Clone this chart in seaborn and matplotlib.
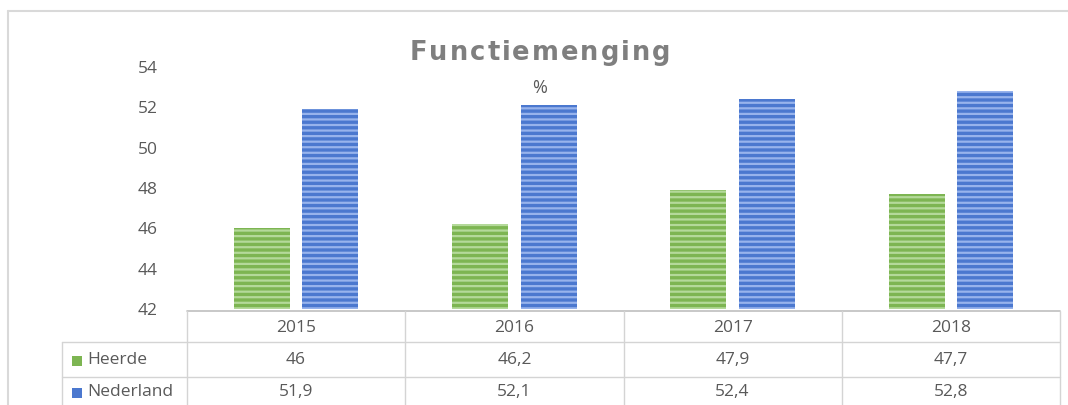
import matplotlib
matplotlib.use("Agg")
import matplotlib.pyplot as plt
import matplotlib.transforms as mtransforms
from matplotlib.lines import Line2D
from matplotlib.patches import Rectangle
import seaborn as sns
import pandas as pd

years = ["2015", "2016", "2017", "2018"]
series_names = ["Heerde", "Nederland"]
heerde = [46.0, 46.2, 47.9, 47.7]
nederland = [51.9, 52.1, 52.4, 52.8]
heerde_labels = ["46", "46,2", "47,9", "47,7"]
nederland_labels = ["51,9", "52,1", "52,4", "52,8"]
yticks = [42, 44, 46, 48, 50, 52, 54]
title = "Functiemenging"
subtitle = "%"

base_colors = {"Heerde": "#7db552", "Nederland": "#4b78cf"}
stripe_colors = {"Heerde": "#b4d99a", "Nederland": "#97b3ec"}
text_color = "#595959"
grid_color = "#d4d4d4"

sns.set_style("white")
plt.rcParams["font.family"] = ["Open Sans", "DejaVu Sans"]
plt.rcParams["hatch.linewidth"] = 1.6

W, H = 1068, 405
fig = plt.figure(figsize=(W / 100, H / 100), dpi=100)

def fx(px):
    return px / W

def fy(py):
    return 1 - py / H

ax = fig.add_axes([fx(187), fy(309), fx(1060) - fx(187), fy(67) - fy(309)])

df = pd.DataFrame({"year": years, "Heerde": heerde, "Nederland": nederland})
long = df.melt(id_vars="year", var_name="series", value_name="value")

sns.barplot(data=long, x="year", y="value", hue="series", hue_order=series_names,
            palette=base_colors, width=0.628, gap=0.18, legend=False, ax=ax,
            saturation=1)

n = len(years)
for i, patch in enumerate(ax.patches[: 2 * n]):
    s = series_names[i // n]
    patch.set_facecolor(base_colors[s])
    patch.set_edgecolor(stripe_colors[s])
    patch.set_hatch("---")
    patch.set_linewidth(0)

ax.set_ylim(42, 54)
ax.set_xlim(-0.5, n - 0.5)
ax.set_yticks(yticks)
ax.set_yticklabels([str(t) for t in yticks])
ax.tick_params(axis="y", length=0, pad=21, labelsize=12.5, labelcolor=text_color)
ax.set_xticks([])
ax.set_xlabel("")
ax.set_ylabel("")
for sp in ax.spines.values():
    sp.set_visible(False)

# outer frame
fig.add_artist(Line2D([fx(8), 1.0], [fy(11), fy(11)], color="#d9d9d9", lw=1.5))
fig.add_artist(Line2D([fx(8), fx(8)], [fy(11), 0.0], color="#d9d9d9", lw=1.5))

# letter-spaced title
renderer = fig.canvas.get_renderer()
title_kw = dict(fontsize=18.5, fontweight="bold", color="#7f7f7f", family=["DejaVu Sans"],
                va="baseline", ha="left")
spacing = 2.0
widths = []
for ch in title:
    t = fig.text(0, 0, ch, **title_kw)
    widths.append(t.get_window_extent(renderer).width)
    t.remove()
total = sum(widths) + spacing * (len(title) - 1)
x = 540 - total / 2
for ch, w in zip(title, widths):
    fig.text(fx(x), fy(60), ch, **title_kw)
    x += w + spacing

fig.text(fx(540), fy(88), subtitle, ha="center", va="center", fontsize=13,
         color=text_color)

# data table
trans = mtransforms.blended_transform_factory(ax.transData, fig.transFigure)
top, r1, r2, bot = 311, 342, 377, 412
fig.add_artist(Line2D([fx(187), fx(1060)], [fy(top), fy(top)], color="#bfbfbf", lw=1.2))
for yy in (r1, r2):
    fig.add_artist(Line2D([fx(62), fx(1060)], [fy(yy), fy(yy)], color=grid_color, lw=1.0))
for b in [i - 0.5 for i in range(n + 1)]:
    fig.add_artist(Line2D([b, b], [fy(top), fy(bot)], color=grid_color, lw=1.0,
                          transform=trans))
fig.add_artist(Line2D([fx(62), fx(62)], [fy(r1), fy(bot)], color=grid_color, lw=1.0))

row_mid = [(top + r1) / 2 + 1, (r1 + r2) / 2 + 1, (r2 + bot) / 2 - 2]
fs = 12.5
for i, yr in enumerate(years):
    fig.text(i, fy(row_mid[0]), yr, ha="center", va="center", fontsize=fs,
             color=text_color, transform=trans)
    fig.text(i, fy(row_mid[1]), heerde_labels[i], ha="center", va="center",
             fontsize=fs, color=text_color, transform=trans)
    fig.text(i, fy(row_mid[2]), nederland_labels[i], ha="center", va="center",
             fontsize=fs, color=text_color, transform=trans)

for k, s in enumerate(series_names):
    ym = row_mid[k + 1]
    fig.add_artist(Rectangle((fx(72), fy(ym + 5)), fx(10), fy(ym - 5) - fy(ym + 5),
                             facecolor=base_colors[s], edgecolor="none"))
    fig.text(fx(87), fy(ym), s, ha="left", va="center", fontsize=fs, color=text_color)

fig.savefig("out.png", dpi=100)
